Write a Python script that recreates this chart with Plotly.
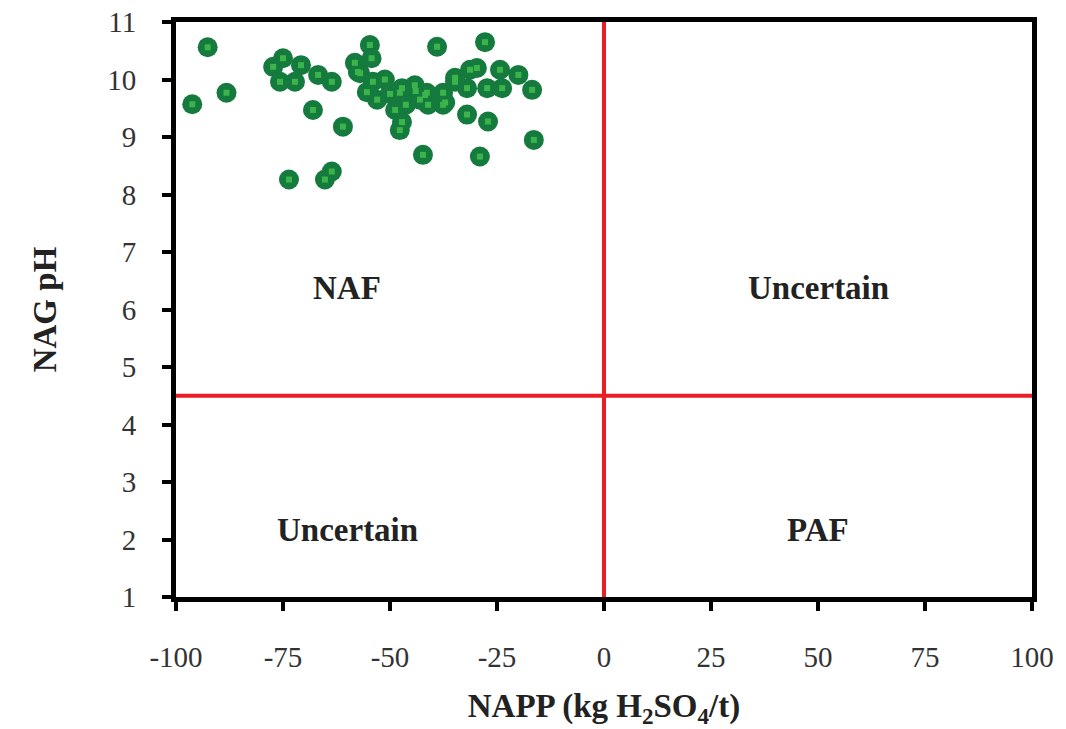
import plotly.graph_objects as go

# NAPP (kg H2SO4/t) and NAG pH of each sample
napp = [-92.6, -96.2, -88.2, -75.0, -77.3, -75.7, -72.2, -70.8, -66.8, -63.6,
        -68.0, -61.0, -73.6, -65.2, -63.6, -58.2, -57.0, -55.4, -54.7, -54.3,
        -57.5, -54.0, -53.0, -47.2, -46.3, -47.2, -47.7, -41.8, -41.1, -37.6,
        -37.6, -39.0, -27.8, -31.3, -32.0, -34.8, -27.3, -24.3, -23.8, -20.0,
        -16.8, -32.0, -27.1, -42.3, -29.0, -16.4, -29.7, -44.0, -50.0, -47.7,
        -41.4, -37.1, -51.2, -44.2, -48.8, -43.0, -34.8]
nag_ph = [10.56, 9.57, 9.77, 10.37, 10.22, 9.96, 9.96, 10.25, 10.08, 9.96,
          9.47, 9.18, 8.26, 8.26, 8.40, 10.29, 10.11, 9.78, 10.60, 10.37,
          10.13, 9.96, 9.65, 9.85, 9.56, 9.26, 9.12, 9.73, 9.56, 9.77,
          9.56, 10.57, 10.65, 10.17, 9.85, 9.96, 9.85, 10.17, 9.85, 10.08,
          9.82, 9.39, 9.27, 8.69, 8.66, 8.95, 10.20, 9.80, 9.75, 9.77,
          9.77, 9.60, 10.00, 9.90, 9.47, 9.65, 10.03]

# classification thresholds
napp_limit = 0
ph_limit = 4.5

# quadrant labels
zone_names = ["NAF", "Uncertain", "Uncertain", "PAF"]
zone_x = [-60, 50, -60, 50]
zone_y = [6.38, 6.38, 2.17, 2.17]

x_ticks = [-100, -75, -50, -25, 0, 25, 50, 75, 100]
y_ticks = list(range(1, 12))

serif = "Liberation Serif"

fig = go.Figure()

# dark green disc with a small lighter core
fig.add_trace(go.Scatter(
    x=napp, y=nag_ph, mode="markers",
    marker=dict(symbol="circle", size=20, color="#147a3d",
                line=dict(width=0)),
    showlegend=False, cliponaxis=False, hoverinfo="skip",
))
fig.add_trace(go.Scatter(
    x=napp, y=nag_ph, mode="markers",
    marker=dict(symbol="square", size=6, color="#3cb44b",
                line=dict(width=0)),
    showlegend=False, cliponaxis=False,
))

fig.add_vline(x=napp_limit, line=dict(color="#ec1c24", width=4), layer="below")
fig.add_hline(y=ph_limit, line=dict(color="#ec1c24", width=4), layer="below")

for name, zx, zy in zip(zone_names, zone_x, zone_y):
    fig.add_annotation(x=zx, y=zy, text=f"<b>{name}</b>", showarrow=False,
                       font=dict(family=serif, size=33, color="#222222"))

fig.update_xaxes(
    range=[-100, 100], tickvals=x_ticks, ticktext=[str(v) for v in x_ticks],
    showgrid=False, zeroline=False, showline=True, linecolor="black",
    linewidth=5, mirror=True, ticks="outside", ticklen=9, tickwidth=4,
    tickcolor="black", ticklabelstandoff=21, automargin=False,
    tickfont=dict(family=serif, size=29, color="#333333"),
    title=dict(text="<b>NAPP (kg H<sub>2</sub>SO<sub>4</sub>/t)</b>",
               font=dict(family=serif, size=33, color="#222222"), standoff=30),
)
fig.update_yaxes(
    range=[1, 11], tickvals=y_ticks,
    showgrid=False, zeroline=False, showline=True, linecolor="black",
    linewidth=5, mirror=True, ticks="outside", ticklen=9, tickwidth=4,
    tickcolor="black", ticklabelstandoff=20, automargin=False,
    tickfont=dict(family=serif, size=29, color="#333333"),
    title=dict(text="<b>NAG pH</b>",
               font=dict(family=serif, size=33, color="#222222"), standoff=42),
)

fig.update_layout(
    width=1066, height=729,
    margin=dict(l=176, r=34, t=22, b=132),
    paper_bgcolor="white", plot_bgcolor="white",
)

fig.write_html("out.html")
